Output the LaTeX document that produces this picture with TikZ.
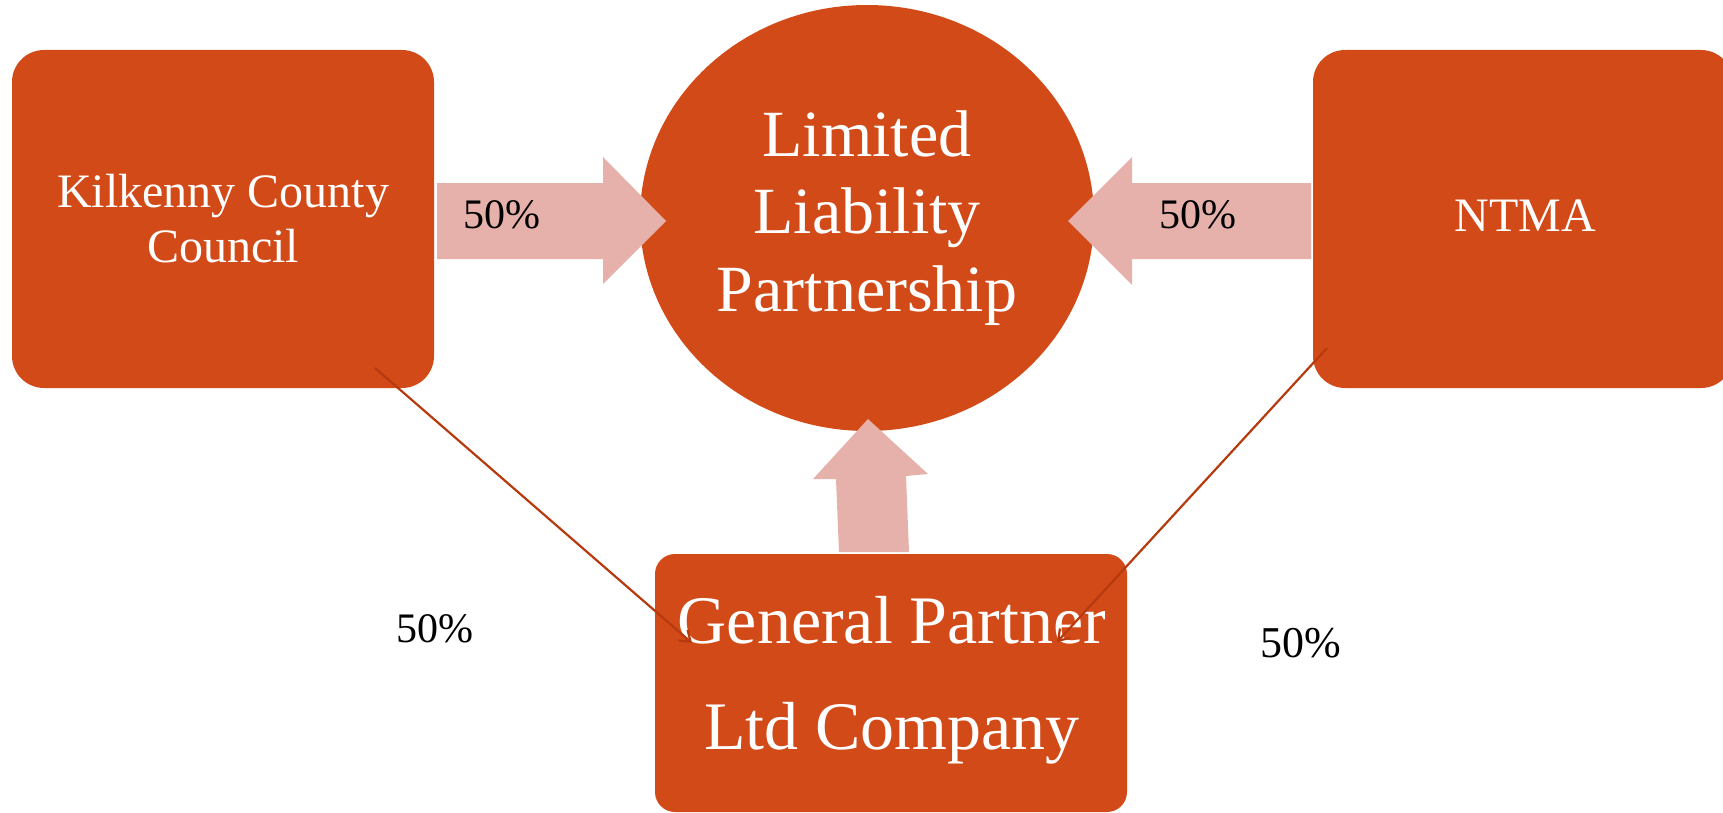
\documentclass[tikz,border=0pt]{standalone}
\usepackage{fontspec}
\setmainfont{Liberation Serif}
\usetikzlibrary{arrows.meta,shapes.geometric}
\definecolor{boxor}{HTML}{D24A18}
\definecolor{arrpink}{HTML}{E6B1AB}
\definecolor{lineor}{HTML}{B73A0E}
\begin{document}
\begin{tikzpicture}[x=0.5pt,y=-0.5pt,
  orbox/.style={fill=boxor,draw=none,rounded corners=16pt,text=white,align=center,inner sep=0pt},
  blockarrow/.style={fill=arrpink,draw=none},
  pct/.style={anchor=base,inner sep=0pt,text=black,font=\fontsize{21}{24}\selectfont},
  link/.style={draw=lineor,line width=1.1pt,-{Straight Barb[length=5pt,width=7pt]}}]
\useasboundingbox (0,0) rectangle (1723,813);

% main shapes
\node[orbox,minimum width=211pt,minimum height=169pt,font=\fontsize{24}{27.5}\selectfont] (kcc) at (223,219) {Kilkenny County\\Council};
\node[orbox,minimum width=210pt,minimum height=169pt] (ntma) at (1523,219) {};
\node[text=white,inner sep=0pt,font=\fontsize{24}{27.5}\selectfont] (ntmat) at (1525,216) {NTMA};
\node[ellipse,fill=boxor,draw=none,text=white,align=center,inner sep=0pt,minimum width=227pt,minimum height=213pt,font=\fontsize{33}{38.75}\selectfont] (llp) at (867,218) {Limited\\Liability\\Partnership};
\node[orbox,rounded corners=10pt,minimum width=236pt,minimum height=129pt] (gp) at (891,683) {};
\node[text=white,align=center,inner sep=0pt,font=\fontsize{34}{53}\selectfont] (gpt) at (892,680) {General Partner\\Ltd Company};

% block arrows
\path[blockarrow] (437,183) -- (603,183) -- (603,157) -- (666,221) -- (603,284) -- (603,259) -- (437,259) -- cycle;
\path[blockarrow] (1311,183) -- (1132,183) -- (1132,157) -- (1068,221) -- (1132,285) -- (1132,259) -- (1311,259) -- cycle;
\path[blockarrow] (868,419) -- (928,474) -- (906,476) -- (909,552) -- (839,552) -- (836,479) -- (813,479) -- cycle;

% labels
\node[pct] (p1) at (502,228) {50\%};
\node[pct] (p2) at (1198,228) {50\%};
\node[pct] (p3) at (435,642) {50\%};
\node[pct,font=\fontsize{22}{25}\selectfont] (p4) at (1301,657) {50\%};

% connectors
\coordinate (s1) at (375,368);
\coordinate (e1) at (692,643);
\coordinate (s2) at (1327,348);
\coordinate (e2) at (1057,642);
\draw[link] (s1) -- (e1);
\draw[link] (s2) -- (e2);
\end{tikzpicture}
\end{document}
